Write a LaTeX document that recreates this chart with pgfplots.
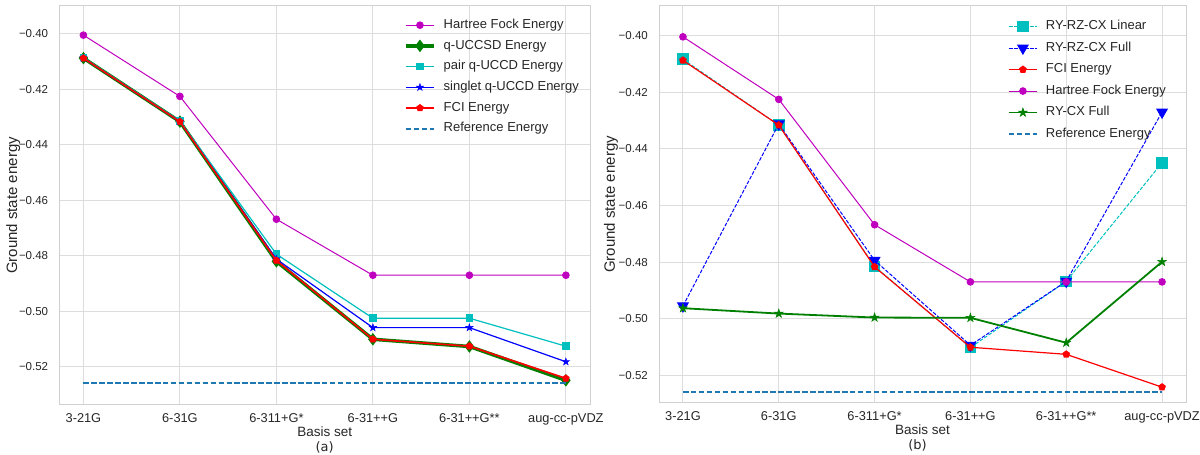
\documentclass[border=0pt]{standalone}
\usepackage{fontspec}
\setmainfont{Liberation Sans}
\newfontfamily\dejavu{DejaVu Sans}
\usepackage{pgfplots}
\pgfplotsset{compat=1.18}
\usetikzlibrary{plotmarks}
\definecolor{mpm}{HTML}{BF00BF}
\definecolor{mpg}{HTML}{008000}
\definecolor{mpc}{HTML}{00BFBF}
\definecolor{mpb}{HTML}{0000FF}
\definecolor{mpr}{HTML}{FF0000}
\definecolor{tabblue}{HTML}{1F77B4}
\definecolor{gridc}{HTML}{DDDDDD}
\definecolor{spinec}{HTML}{D0D0D0}
\definecolor{txt}{HTML}{262626}
\pgfdeclareplotmark{fstar}{%
  \pgfpathmoveto{\pgfqpoint{0pt}{\pgfplotmarksize}}%
  \pgfpathlineto{\pgfqpoint{0.2245\pgfplotmarksize}{0.3090\pgfplotmarksize}}%
  \pgfpathlineto{\pgfqpoint{0.9511\pgfplotmarksize}{0.3090\pgfplotmarksize}}%
  \pgfpathlineto{\pgfqpoint{0.3633\pgfplotmarksize}{-0.1180\pgfplotmarksize}}%
  \pgfpathlineto{\pgfqpoint{0.5878\pgfplotmarksize}{-0.8090\pgfplotmarksize}}%
  \pgfpathlineto{\pgfqpoint{0pt}{-0.382\pgfplotmarksize}}%
  \pgfpathlineto{\pgfqpoint{-0.5878\pgfplotmarksize}{-0.8090\pgfplotmarksize}}%
  \pgfpathlineto{\pgfqpoint{-0.3633\pgfplotmarksize}{-0.1180\pgfplotmarksize}}%
  \pgfpathlineto{\pgfqpoint{-0.9511\pgfplotmarksize}{0.3090\pgfplotmarksize}}%
  \pgfpathlineto{\pgfqpoint{-0.2245\pgfplotmarksize}{0.3090\pgfplotmarksize}}%
  \pgfpathclose\pgfusepathqfillstroke}
\newcommand{\labfont}{\fontsize{13.5}{15}\selectfont}
\newcommand{\ylabfont}{\fontsize{15}{17}\selectfont}
\pgfplotsset{
  mystyle/.style={
    scale only axis,
    clip mode=individual,
    xmin=-0.25, xmax=5.25,
    xtick={0,1,2,3,4,5},
    xticklabels={3-21G,6-31G,6-311+G*,6-31++G,6-31++G**,aug-cc-pVDZ},
    ytick={-0.52,-0.50,-0.48,-0.46,-0.44,-0.42,-0.40},
    yticklabels={−0.52,−0.50,−0.48,−0.46,−0.44,−0.42,−0.40},
    grid=major,
    major grid style={color=gridc, line width=1pt},
    axis line style={color=spinec, line width=1pt},
    major tick length=0pt,
    tick label style={text=txt},
    yticklabel style={font=\fontsize{11.5}{13}\selectfont, inner sep=0pt, xshift=-11pt},
    xticklabel style={font=\fontsize{12.8}{14}\selectfont, inner sep=0pt, yshift=-8pt, anchor=north, text height=9pt},
    xlabel={Basis set},
    ylabel={Ground state energy},
    every axis x label/.style={at={(rel axis cs:0.5,0)}, anchor=center, yshift=-26.5pt, font=\labfont, text=txt},
    legend cell align=left,
    legend image code/.code={\draw[mark repeat=2,mark phase=2] plot coordinates {(0pt,0pt) (14pt,0pt) (28pt,0pt)};},
    legend style={draw=none, fill=none, inner sep=0pt,
      font=\fontsize{13}{15}\selectfont, text=txt,
      nodes={inner sep=1pt, text height=9.5pt, text depth=3pt},
      /tikz/every odd column/.append style={column sep=7pt}},
  },
}
\begin{document}
\begin{tikzpicture}
\useasboundingbox (0,0) rectangle (1200pt,455pt);
% ---------------- (a)
\begin{axis}[mystyle,
  at={(59.3pt,50pt)}, anchor=south west,
  width=530.7pt, height=399pt,
  ymin=-0.5338, ymax=-0.3899,
  every axis y label/.style={at={(rel axis cs:0,0.5)}, xshift=-46pt, rotate=90, anchor=center, font=\ylabfont, text=txt},
  legend style={at={(rel axis cs:0.6495,0.9706)}, anchor=north west, row sep=6.2pt},
]
\addplot[color=mpm, line width=1pt, mark=*, mark size=3.3pt, mark options={fill=mpm}]
  coordinates {(0,-0.4004) (1,-0.4225) (2,-0.4668) (3,-0.4870) (4,-0.4870) (5,-0.4870)};
\addlegendentry{Hartree Fock Energy}
\addplot[color=mpg, line width=3.5pt, mark=diamond*, mark size=5.5pt, mark options={fill=mpg, line width=1pt}]
  coordinates {(0,-0.4087) (1,-0.4316) (2,-0.4820) (3,-0.5101) (4,-0.5127) (5,-0.5249)};
\addlegendentry{q-UCCSD Energy}
\addplot[color=mpc, line width=1.2pt, mark=square*, mark size=3.2pt, mark options={fill=mpc}]
  coordinates {(0,-0.4085) (1,-0.4313) (2,-0.4794) (3,-0.5025) (4,-0.5025) (5,-0.5126)};
\addlegendentry{pair q-UCCD Energy}
\addplot[color=mpb, line width=1.2pt, mark=fstar, mark size=3.8pt, mark options={fill=mpb, line width=0.5pt}]
  coordinates {(0,-0.4087) (1,-0.4316) (2,-0.4812) (3,-0.5059) (4,-0.5059) (5,-0.5182)};
\addlegendentry{singlet q-UCCD Energy}
\addplot[color=mpr, line width=1.6pt, mark=pentagon*, mark size=3.6pt, mark options={fill=mpr, line width=0.5pt}]
  coordinates {(0,-0.4087) (1,-0.4316) (2,-0.4817) (3,-0.5101) (4,-0.5126) (5,-0.5242)};
\addlegendentry{FCI Energy}
\addplot[draw=tabblue, line width=2pt, dash pattern=on 5.55pt off 2.4pt]
  coordinates {(0,-0.5260) (1,-0.5260) (2,-0.5260) (3,-0.5260) (4,-0.5260) (5,-0.5260)};
\addlegendentry{Reference Energy}
\node[font=\dejavu\fontsize{13}{15}\selectfont, text=txt] at (rel axis cs:0.5,0) [yshift=-42.5pt] {(a)};
\end{axis}
% ---------------- (b)
\begin{axis}[mystyle,
  at={(659pt,52pt)}, anchor=south west,
  width=527pt, height=397pt,
  ymin=-0.5298, ymax=-0.3895,
  every axis y label/.style={at={(rel axis cs:0,0.5)}, xshift=-48pt, rotate=90, anchor=center, font=\ylabfont, text=txt},
  legend style={at={(rel axis cs:0.6617,0.967)}, anchor=north west, row sep=7pt},
]
\addplot[color=mpc, line width=1pt, dash pattern=on 3.7pt off 1.6pt, mark=square*, mark size=5.3pt, mark options={solid, fill=mpc}]
  coordinates {(0,-0.4083) (1,-0.4316) (2,-0.4815) (3,-0.5102) (4,-0.4868) (5,-0.4449)};
\addlegendentry{RY-RZ-CX Linear}
\addplot[color=mpb, line width=1pt, dash pattern=on 3.7pt off 1.6pt, mark=triangle*, mark size=6pt, mark options={solid, fill=mpb, rotate=180}]
  coordinates {(0,-0.4955) (1,-0.4312) (2,-0.4794) (3,-0.5094) (4,-0.4868) (5,-0.4270)};
\addlegendentry{RY-RZ-CX Full}
\addplot[color=mpr, line width=1.2pt, mark=pentagon*, mark size=3.3pt, mark options={fill=mpr}]
  coordinates {(0,-0.4087) (1,-0.4316) (2,-0.4817) (3,-0.5101) (4,-0.5126) (5,-0.5242)};
\addlegendentry{FCI Energy}
\addplot[color=mpm, line width=1pt, mark=*, mark size=3.3pt, mark options={fill=mpm}]
  coordinates {(0,-0.4004) (1,-0.4225) (2,-0.4668) (3,-0.4870) (4,-0.4870) (5,-0.4870)};
\addlegendentry{Hartree Fock Energy}
\addplot[color=mpg, line width=1.8pt, mark=fstar, mark size=4.6pt, mark options={fill=mpg, line width=0.5pt}]
  coordinates {(0,-0.4963) (1,-0.4982) (2,-0.4996) (3,-0.4997) (4,-0.5085) (5,-0.4799)};
\addlegendentry{RY-CX Full}
\addplot[draw=tabblue, line width=2pt, dash pattern=on 5.55pt off 2.4pt]
  coordinates {(0,-0.5258) (1,-0.5258) (2,-0.5258) (3,-0.5258) (4,-0.5258) (5,-0.5258)};
\addlegendentry{Reference Energy}
\node[font=\dejavu\fontsize{13}{15}\selectfont, text=txt] at (rel axis cs:0.5,0) [yshift=-42.5pt, xshift=-5pt] {(b)};
\end{axis}
\end{tikzpicture}
\end{document}
